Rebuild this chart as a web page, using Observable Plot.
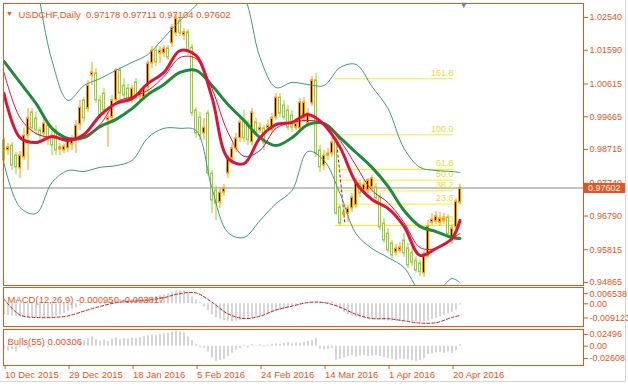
<!DOCTYPE html>
<html><head><meta charset="utf-8">
<script src="https://cdn.jsdelivr.net/npm/d3@7"></script>
<script src="https://cdn.jsdelivr.net/npm/@observablehq/plot@0.6"></script>
<style>
html,body{margin:0;padding:0;background:#fff;}
#chart{position:relative;width:628px;height:388px;overflow:hidden;background:#fff;}
#chart svg{position:absolute;left:0;}
#edgeR{position:absolute;left:625px;top:0;width:1px;height:381px;background:#d4d4d4;}
#edgeB{position:absolute;left:0;top:381px;width:626px;height:1px;background:#d4d4d4;}
</style></head><body><div id="chart"><div id="edgeR"></div><div id="edgeB"></div></div>
<script>
// ---------------- data ----------------
const symbol = "USDCHF,Daily";
const opens = [0.9898,0.9869,0.9883,0.9854,0.9817,0.9849,0.9912,0.9979,0.9962,0.9927,0.9918,0.9941,0.9912,0.9927,0.9872,0.9869,0.9875,0.9886,0.9898,0.9944,1.0014,0.9990,1.0086,1.0092,1.0014,1.0034,0.9956,0.9964,1.0014,1.0101,1.0057,1.0048,1.0014,1.0066,1.0025,1.0022,1.0051,1.0121,1.0158,1.0150,1.0150,1.0164,1.0179,1.0208,1.0245,1.0202,1.0211,1.0167,0.9985,0.9964,0.9918,0.9976,0.9802,0.9753,0.9718,0.9747,0.9802,0.9846,0.9875,0.9904,0.9956,0.9941,0.9892,0.9950,0.9927,0.9933,0.9933,0.9927,0.9964,1.0022,0.9999,0.9985,0.9970,0.9935,0.9933,0.9962,0.9947,1.0005,1.0072,0.9869,0.9825,0.9854,0.9860,0.9898,0.9704,0.9683,0.9686,0.9701,0.9710,0.9773,0.9753,0.9753,0.9762,0.9762,0.9733,0.9657,0.9628,0.9600,0.9573,0.9579,0.9608,0.9585,0.9573,0.9550,0.9542,0.9513,0.9562,0.9660,0.9663,0.9660,0.9666,0.9675,0.9608,0.9646,0.97178];
const highs = [0.9906,0.9889,0.9892,0.9863,0.9866,0.9935,0.9990,0.9990,0.9979,0.9935,0.9967,0.9950,0.9927,0.9941,0.9889,0.9889,0.9906,0.9912,0.9956,1.0014,1.0022,1.0072,1.0124,1.0106,1.0028,1.0048,0.9979,1.0028,1.0106,1.0109,1.0077,1.0060,1.0057,1.0077,1.0048,1.0057,1.0129,1.0170,1.0170,1.0170,1.0173,1.0173,1.0234,1.0263,1.0254,1.0222,1.0219,1.0176,0.9993,0.9979,0.9962,0.9985,0.9811,0.9767,0.9759,0.9770,0.9854,0.9889,0.9918,0.9962,0.9985,0.9956,0.9990,0.9962,0.9950,0.9941,0.9956,0.9976,1.0034,1.0034,1.0014,0.9999,0.9985,0.9962,1.0019,1.0022,0.9990,1.0083,1.0092,0.9883,0.9869,0.9875,0.9904,0.9906,0.9710,0.9701,0.9710,0.9744,0.9788,0.9782,0.9779,0.9788,0.9796,0.9773,0.9744,0.9672,0.9643,0.9608,0.9597,0.9602,0.9628,0.9600,0.9588,0.9562,0.9553,0.9579,0.9666,0.9686,0.9692,0.9689,0.9686,0.9683,0.9655,0.9730,0.97711];
const lows = [0.9820,0.9854,0.9811,0.9799,0.9788,0.9840,0.9811,0.9918,0.9912,0.9898,0.9904,0.9883,0.9854,0.9854,0.9854,0.9860,0.9863,0.9869,0.9860,0.9927,0.9950,0.9979,1.0057,1.0005,0.9956,0.9970,0.9878,0.9956,1.0005,1.0014,1.0014,1.0005,1.0005,1.0014,1.0014,1.0014,1.0037,1.0106,1.0112,1.0121,1.0138,1.0129,1.0167,1.0199,1.0199,1.0187,1.0144,0.9967,0.9904,0.9898,0.9898,0.9796,0.9686,0.9666,0.9701,0.9736,0.9788,0.9834,0.9863,0.9892,0.9892,0.9883,0.9883,0.9912,0.9918,0.9869,0.9921,0.9918,0.9956,0.9964,0.9956,0.9927,0.9921,0.9927,0.9921,0.9950,0.9935,0.9996,0.9849,0.9805,0.9811,0.9840,0.9849,0.9681,0.9649,0.9672,0.9660,0.9689,0.9701,0.9733,0.9747,0.9744,0.9753,0.9721,0.9637,0.9600,0.9571,0.9556,0.9562,0.9571,0.9559,0.9527,0.9533,0.9513,0.9504,0.9501,0.9556,0.9649,0.9655,0.9649,0.9655,0.9617,0.9597,0.9637,0.97104];
const closes = [0.9840,0.9878,0.9825,0.9820,0.9854,0.9912,0.9962,0.9933,0.9927,0.9912,0.9947,0.9898,0.9883,0.9869,0.9878,0.9880,0.9895,0.9901,0.9941,0.9993,0.9962,1.0057,1.0095,1.0014,0.9964,0.9985,0.9964,1.0014,1.0101,1.0034,1.0028,1.0014,1.0048,1.0022,1.0037,1.0048,1.0121,1.0158,1.0124,1.0158,1.0164,1.0138,1.0225,1.0251,1.0208,1.0211,1.0158,0.9976,0.9918,0.9912,0.9935,0.9802,0.9724,0.9715,0.9747,0.9759,0.9846,0.9875,0.9904,0.9950,0.9904,0.9898,0.9979,0.9921,0.9935,0.9889,0.9941,0.9962,1.0022,0.9976,0.9964,0.9935,0.9935,0.9947,1.0008,1.0008,0.9976,1.0072,0.9860,0.9820,0.9854,0.9860,0.9892,0.9686,0.9657,0.9689,0.9701,0.9733,0.9776,0.9744,0.9770,0.9782,0.9788,0.9730,0.9646,0.9608,0.9579,0.9565,0.9585,0.9588,0.9571,0.9536,0.9544,0.9521,0.9516,0.9568,0.9649,0.9669,0.9678,0.9672,0.9672,0.9626,0.9643,0.9721,0.97602];

// indicator lines, read every 4th bar
const lineIdx = [0,4,8,12,16,20,24,28,32,36,40,44,48,52,56,60,64,68,72,76,80,84,88,92,96,100,104,108,112,114];
const bbUpper = [1.0650,1.0590,1.0361,1.0129,1.0014,1.0057,1.0077,1.0101,1.0124,1.0147,1.0196,1.0245,1.0289,1.0347,1.0361,1.0315,1.0138,1.0051,1.0066,1.0060,1.0057,1.0109,1.0118,1.0054,0.9990,0.9875,0.9820,0.9811,0.9808,0.9805];
const bbLower = [0.9831,0.9704,0.9686,0.9776,0.9811,0.9808,0.9820,0.9825,0.9840,0.9906,0.9933,0.9933,0.9927,0.9759,0.9631,0.9617,0.9666,0.9715,0.9753,0.9866,0.9840,0.9744,0.9628,0.9585,0.9559,0.9530,0.9463,0.9457,0.9498,0.9486];
const maSlow = [1.0127,1.0066,1.0005,0.9933,0.9904,0.9906,0.9938,0.9959,0.9990,1.0031,1.0060,1.0095,1.0101,1.0057,1.0002,0.9956,0.9906,0.9883,0.9906,0.9944,0.9947,0.9906,0.9863,0.9820,0.9765,0.9695,0.9649,0.9634,0.9617,0.9614];
const maFast = [1.0034,0.9906,0.9892,0.9909,0.9898,0.9915,0.9970,1.0005,1.0019,1.0063,1.0095,1.0158,1.0144,1.0022,0.9846,0.9831,0.9906,0.9944,0.9950,0.9973,0.9944,0.9878,0.9776,0.9727,0.9701,0.9649,0.9565,0.9585,0.9614,0.9666];
const maMid = [1.0095,0.9964,0.9918,0.9906,0.9904,0.9909,0.9944,1.0008,1.0025,1.0043,1.0083,1.0138,1.0135,1.0048,0.9921,0.9852,0.9869,0.9933,0.9950,0.9956,0.9947,0.9898,0.9825,0.9753,0.9718,0.9660,0.9588,0.9585,0.9614,0.9628];

// Fibonacci retracement
const fibLabels = ["0.0","23.6","38.2","50.0","61.8","100.0","161.8"];
const fibPrices = [0.96516,0.97136,0.97519,0.97830,0.98140,0.99143,1.00767];
const fibStartIdx = 82.9, fibEndIdx = 112.4;
const fibTrend = [{i1: 83.1, p1: 0.9900, i2: 85.2, p2: 0.9660}];

// MACD(12,26,9)
const macdName = "MACD(12,26,9)";
const macdMainLast = -0.000950, macdSignalLast = -0.003817;
const macdHist = [-0.0070,-0.0075,-0.0078,-0.0080,
 -0.0085,-0.0088,-0.0090,-0.0090,-0.0088,-0.0088,-0.0090,-0.0088,-0.0085,-0.0080,-0.0072,
 -0.0062,-0.0050,-0.0038,-0.0025,-0.0012,
 0.0003,0.0008,0.0012,0.0010,0.0008,0.0010,0.0015,
 0.0020,0.0025,0.0028,0.0026,0.0024,0.0025,0.0027,0.0028,0.0030,0.0035,0.0042,0.0048,0.0052,
 0.0058,0.0065,0.0072,0.0080,0.0085,0.0082,0.0075,
 0.0045,0.0025,0.0008,
 -0.0020,-0.0045,-0.0070,-0.0090,-0.0100,-0.0108,-0.0112,-0.0115,-0.0112,-0.0108,
 -0.0105,-0.0100,-0.0095,-0.0088,-0.0080,-0.0072,-0.0065,-0.0058,-0.0050,
 -0.0042,-0.0035,-0.0025,-0.0018,
 -0.0010,-0.0006,-0.0003,0.0002,0.0005,0.0008,
 0.0010,0.0008,0.0009,0.0010,
 -0.0015,-0.0035,-0.0055,
 -0.0070,-0.0080,-0.0088,-0.0092,-0.0095,-0.0098,
 -0.0100,-0.0102,-0.0105,-0.0108,-0.0110,-0.0112,-0.0113,-0.0112,-0.0112,-0.0114,-0.0116,-0.0118,-0.0120,-0.0118,-0.0110,-0.0102,-0.0095,
 -0.0085,-0.0075,-0.0065,-0.0055,-0.0040,-0.00095];
const macdSignal = [0.0030,-0.0072,-0.0088,-0.0088,-0.0078,-0.0047,-0.0017,0.0007,0.0017,0.0024,0.0040,0.0066,0.0070,0.0010,-0.0065,-0.0095,-0.0080,-0.0040,-0.0015,0.0008,0.0008,-0.0022,-0.0068,-0.0095,-0.0096,-0.0110,-0.0124,-0.0122,-0.0088,-0.0075];

// Bulls Power(55)
const bullsName = "Bulls(55)";
const bulls = [-0.006,-0.010,-0.008,-0.012,-0.004,0.002,
 -0.006,0.002,-0.002,0.003,0.002,-0.003,0.003,0.001,-0.002,0.003,0.002,0.004,0.003,
 0.008,0.012,0.016,0.020,0.014,0.011,0.013,
 0.010,0.015,0.018,0.014,0.016,0.015,0.017,0.016,
 0.018,0.020,0.022,0.024,0.023,0.025,0.026,0.027,0.030,0.032,0.030,0.028,
 0.020,0.012,0.004,
 -0.004,-0.005,
 -0.012,-0.025,-0.032,-0.030,-0.028,-0.022,-0.015,-0.008,-0.005,
 0.002,-0.004,0.003,0.001,0.003,-0.002,0.002,
 0.004,0.005,0.004,0.006,0.008,0.005,0.007,0.006,0.008,0.010,0.012,0.016,
 -0.006,-0.008,-0.007,-0.005,
 -0.030,-0.028,
 -0.025,-0.022,-0.020,-0.023,-0.021,-0.020,-0.022,-0.021,-0.020,-0.022,
 -0.024,-0.026,-0.028,-0.030,-0.027,-0.028,-0.029,-0.031,-0.032,-0.030,
 -0.026,-0.018,-0.016,-0.014,-0.013,-0.015,-0.012,
 -0.016,-0.010,0.00306];

// axis ticks
const priceTicks = [1.02540,1.01590,1.00615,0.99665,0.98715,0.97740,0.96790,0.95815,0.94865];
const macdTicks = [0.006538,0,-0.009123];
const macdTickLabels = ["0.006538","0.00","-0.009123"];
const bullsTicks = [0.02496,0,-0.02608];
const bullsTickLabels = ["0.02496","0.00","-0.02608"];
const dateTickIdx = [0,16,32,48,64,80,96,112];
const dateLabels = ["10 Dec 2015","29 Dec 2015","18 Jan 2016","5 Feb 2016","24 Feb 2016","14 Mar 2016","1 Apr 2016","20 Apr 2016"];

// ---------------- styles ----------------
const FONT = '"Liberation Sans", Arial, sans-serif';
const AXIS = "#E8541E";
const BULL = "#FF9900", BEAR = "#9ACD32";
const BB = "#3E9B7C", SLOW = "#1F8A3A", FAST = "#DC143C", MID = "#DC143C";
const FIB = "#F2EE2C", FIBTXT = "#E8E030";
const HIST = "#ABABAB";
const X_DOMAIN = [-0.125, 144.875];
const W = 628, MR = 45, ML = 3;

const candles = closes.map((c, i) => ({i, o: opens[i], h: highs[i], l: lows[i], c, up: c >= opens[i]}));
const last = candles[candles.length - 1];
const f5 = v => v.toFixed(5);
const f6 = v => v.toFixed(6);

const chart = document.getElementById("chart");
const baseStyle = {background: "transparent", fontFamily: FONT, fontSize: "9px", overflow: "visible"};

function priceBox(index, scales, values, dims) {
  const y = Math.round(scales.y(last.c));
  const x0 = dims.width - dims.marginRight;
  const g = d3.create("svg:g");
  g.append("rect").attr("x", x0).attr("y", y - 5).attr("width", 42).attr("height", 10).attr("fill", AXIS);
  g.append("text").attr("x", x0 + 5).attr("y", y).attr("dy", "0.35em").attr("fill", "#fff")
    .attr("text-anchor", "start").attr("font-size", 9).attr("font-family", FONT).text(f5(last.c));
  return g.node();
}

// ---------------- main price panel ----------------
const main = Plot.plot({
  width: W, height: 286, marginTop: 3, marginBottom: 1, marginLeft: ML, marginRight: MR,
  style: baseStyle,
  x: {domain: X_DOMAIN, axis: null},
  y: {domain: [0.947786, 1.029454]},
  marks: [
    Plot.ruleY([last.c], {stroke: "#8a8a8a", strokeWidth: 1}),
    Plot.ruleY(fibPrices, {y: d => d, x1: () => fibStartIdx, x2: () => fibEndIdx, stroke: FIB, strokeWidth: 1}),
    Plot.text(fibPrices, {y: d => d, x: () => fibEndIdx, text: (d, k) => fibLabels[k], textAnchor: "end", dy: -6, fill: FIBTXT, fontSize: 9}),
    Plot.link(fibTrend, {x1: "i1", y1: "p1", x2: "i2", y2: "p2", stroke: "#C0102A", strokeDasharray: "3,2"}),
    Plot.ruleX(candles, {x: "i", y1: "l", y2: "h", stroke: d => d.up ? BULL : BEAR}),
    Plot.rect(candles, {x1: d => d.i - 0.25, x2: d => d.i + 0.25, y1: "o", y2: "c",
      fill: d => d.up ? "#000" : "#fff", stroke: d => d.up ? BULL : BEAR, strokeWidth: 1}),
    Plot.line(lineIdx, {x: d => d, y: (d, k) => bbUpper[k], stroke: BB, strokeWidth: 1, curve: "catmull-rom", clip: true}),
    Plot.line(lineIdx, {x: d => d, y: (d, k) => bbLower[k], stroke: BB, strokeWidth: 1, curve: "catmull-rom", clip: true}),
    Plot.line(lineIdx, {x: d => d, y: (d, k) => maSlow[k], stroke: SLOW, strokeWidth: 3, curve: "catmull-rom", clip: true}),
    Plot.line(lineIdx, {x: d => d, y: (d, k) => maMid[k], stroke: MID, strokeWidth: 1, curve: "catmull-rom", clip: true}),
    Plot.line(lineIdx, {x: d => d, y: (d, k) => maFast[k], stroke: FAST, strokeWidth: 3, curve: "catmull-rom", clip: true}),
    Plot.frame({stroke: AXIS}),
    Plot.axisY(priceTicks, {anchor: "right", tickFormat: f5, tickSize: 4, tickPadding: 2, color: AXIS, fontSize: 9}),
    Plot.text(["\u25BC"], {frameAnchor: "top-left", dx: 6, dy: 8, fill: AXIS, fontSize: 7, textAnchor: "middle"}),
    Plot.text([`${symbol}\u00A0 ${f5(last.o)} ${f5(last.h)} ${f5(last.l)} ${f5(last.c)}`],
      {frameAnchor: "top-left", dx: 15, dy: 8, fill: AXIS, fontSize: 9.5, textAnchor: "start"}),
    Plot.text(["\u25BC"], {x: () => candles.length - 1 + 0.9, frameAnchor: "top", lineAnchor: "top", dy: -2, fill: "#808080", fontSize: 9}),
    priceBox
  ]
});
main.style.top = "0px";
chart.appendChild(main);

// ---------------- MACD panel ----------------
const macd = Plot.plot({
  width: W, height: 41, marginTop: 1, marginBottom: 1, marginLeft: ML, marginRight: MR,
  style: baseStyle,
  x: {domain: X_DOMAIN, axis: null},
  y: {domain: [-0.014645, 0.010516]},
  marks: [
    Plot.ruleX(macdHist, {x: (d, i) => i, y1: () => 0, y2: d => d, stroke: HIST}),
    Plot.line(lineIdx, {x: d => d, y: (d, k) => macdSignal[k], stroke: "#C81E1E", strokeWidth: 1, strokeDasharray: "3,2", curve: "catmull-rom"}),
    Plot.frame({stroke: AXIS}),
    Plot.axisY(macdTicks, {anchor: "right", tickFormat: d => macdTickLabels[macdTicks.indexOf(d)], tickSize: 4, tickPadding: 2, color: AXIS, fontSize: 9}),
    Plot.text([`${macdName} ${f6(macdMainLast)} ${f6(macdSignalLast)}`], {frameAnchor: "top-left", dx: 4, dy: 9, fill: AXIS, fontSize: 9.5, textAnchor: "start"})
  ]
});
macd.style.top = "286px";
chart.appendChild(macd);

// ---------------- Bulls panel ----------------
const bp = Plot.plot({
  width: W, height: 61, marginTop: 2, marginBottom: 23, marginLeft: ML, marginRight: MR,
  style: baseStyle,
  x: {domain: X_DOMAIN},
  y: {domain: [-0.04106, 0.03553]},
  marks: [
    Plot.ruleX(bulls, {x: (d, i) => i, y1: () => 0, y2: d => d, stroke: HIST}),
    Plot.frame({stroke: AXIS}),
    Plot.axisY(bullsTicks, {anchor: "right", tickFormat: d => bullsTickLabels[bullsTicks.indexOf(d)], tickSize: 4, tickPadding: 2, color: AXIS, fontSize: 9}),
    Plot.axisX(dateTickIdx, {anchor: "bottom", tickFormat: d => dateLabels[dateTickIdx.indexOf(d)], tickSize: 4, tickPadding: 2, textAnchor: "start", dx: 1, color: AXIS, fontSize: 9.5}),
    Plot.text([`${bullsName} ${f5(bulls[bulls.length - 1])}`], {frameAnchor: "top-left", dx: 4, dy: 9, fill: AXIS, fontSize: 9.5, textAnchor: "start"})
  ]
});
bp.style.top = "327px";
chart.appendChild(bp);
</script>
</body></html>
